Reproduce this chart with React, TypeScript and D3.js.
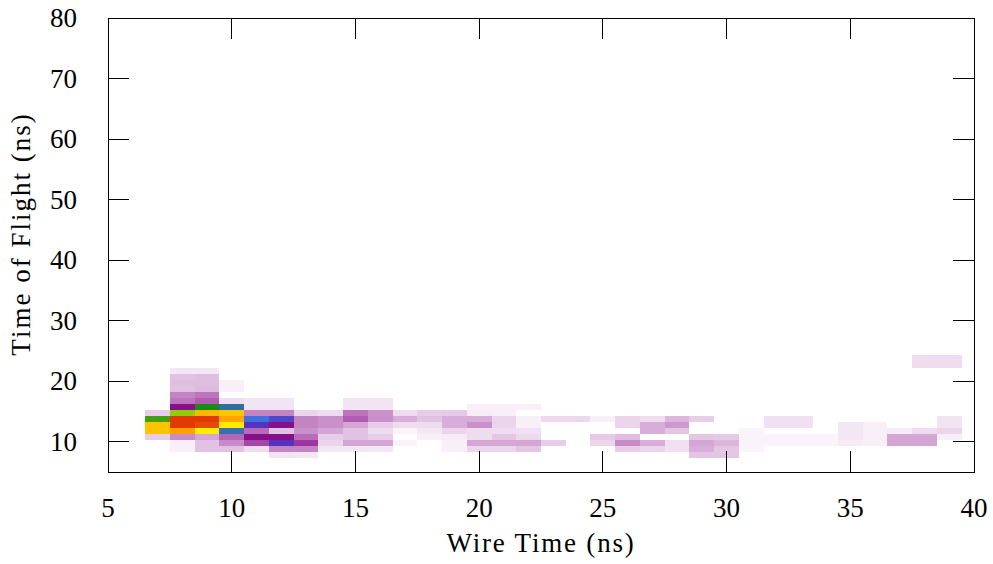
import * as d3 from "d3";

// wire-time bins are 1 ns wide, centred on integers
// time-of-flight bins are 1 ns wide, centres below
const wireTicks = [5, 10, 15, 20, 25, 30, 35, 40];
const tofTicks = [10, 20, 30, 40, 50, 60, 70, 80];

// [wire time centre, tof centre, counts]
const cells: [number, number, number][] = [
  [7, 14.75, 12], [7, 13.75, 72], [7, 12.75, 88], [7, 11.75, 88], [7, 10.75, 12],
  [8, 21.75, 5], [8, 20.75, 15], [8, 19.75, 16], [8, 18.75, 15], [8, 17.75, 30], [8, 16.75, 32], [8, 15.75, 45],
  [8, 14.75, 76], [8, 13.75, 100], [8, 12.75, 100], [8, 11.75, 94], [8, 10.75, 28], [8, 9.75, 3], [8, 8.75, 3],
  [9, 21.75, 5], [9, 20.75, 16], [9, 19.75, 16], [9, 18.75, 17], [9, 17.75, 32], [9, 16.75, 35], [9, 15.75, 70],
  [9, 14.75, 90], [9, 13.75, 100], [9, 12.75, 99], [9, 11.75, 82], [9, 10.75, 22], [9, 9.75, 15], [9, 8.75, 15],
  [10, 19.75, 3], [10, 18.75, 3], [10, 16.75, 8], [10, 15.75, 64], [10, 14.75, 88], [10, 13.75, 93],
  [10, 12.75, 82], [10, 11.75, 62], [10, 10.75, 34], [10, 9.75, 28], [10, 8.75, 15],
  [11, 16.75, 6], [11, 15.75, 6], [11, 14.75, 30], [11, 13.75, 58], [11, 12.75, 52], [11, 11.75, 33],
  [11, 10.75, 45], [11, 9.75, 38], [11, 8.75, 8],
  [12, 16.75, 6], [12, 15.75, 6], [12, 14.75, 30], [12, 13.75, 54], [12, 12.75, 45], [12, 11.75, 15],
  [12, 10.75, 45], [12, 9.75, 52], [12, 8.75, 30], [12, 7.75, 6],
  [13, 14.75, 10], [13, 13.75, 30], [13, 12.75, 30], [13, 11.75, 27], [13, 10.75, 33], [13, 9.75, 40], [13, 8.75, 30], [13, 7.75, 5],
  [14, 14.75, 8], [14, 13.75, 27], [14, 12.75, 27], [14, 11.75, 22], [14, 10.75, 12], [14, 9.75, 10], [14, 8.75, 5],
  [15, 16.75, 6], [15, 15.75, 6], [15, 14.75, 32], [15, 13.75, 35], [15, 12.75, 22], [15, 11.75, 15], [15, 10.75, 15], [15, 9.75, 22], [15, 8.75, 5],
  [16, 16.75, 6], [16, 15.75, 6], [16, 14.75, 27], [16, 13.75, 27], [16, 12.75, 12], [16, 11.75, 8], [16, 10.75, 12], [16, 9.75, 22], [16, 8.75, 5],
  [17, 14.75, 8], [17, 13.75, 20], [17, 12.75, 8], [17, 11.75, 2], [17, 9.75, 2],
  [18, 14.75, 12], [18, 13.75, 15], [18, 12.75, 8], [18, 11.75, 5], [18, 10.75, 3],
  [19, 14.75, 13], [19, 13.75, 20], [19, 12.75, 20], [19, 11.75, 10], [19, 10.75, 4], [19, 9.75, 3], [19, 8.75, 3],
  [20, 15.75, 3], [20, 14.75, 4], [20, 13.75, 20], [20, 12.75, 27], [20, 11.75, 8], [20, 10.75, 8], [20, 9.75, 22], [20, 8.75, 10],
  [21, 15.75, 3], [21, 14.75, 3], [21, 13.75, 10], [21, 12.75, 10], [21, 11.75, 8], [21, 10.75, 14], [21, 9.75, 22], [21, 8.75, 10],
  [22, 15.75, 3], [22, 13.75, 3], [22, 12.75, 3], [22, 11.75, 7], [22, 10.75, 9], [22, 9.75, 22], [22, 8.75, 14],
  [23, 13.75, 9], [23, 9.75, 12],
  [24, 13.75, 9],
  [25, 13.75, 3], [25, 10.75, 13], [25, 9.75, 10],
  [26, 13.75, 10], [26, 12.75, 10], [26, 10.75, 16], [26, 9.75, 28], [26, 8.75, 12],
  [27, 13.75, 8], [27, 12.75, 20], [27, 11.75, 20], [27, 9.75, 20], [27, 8.75, 10],
  [28, 13.75, 18], [28, 12.75, 25], [28, 11.75, 14], [28, 9.75, 7], [28, 8.75, 7],
  [29, 13.75, 12], [29, 10.75, 14], [29, 9.75, 22], [29, 8.75, 20], [29, 7.75, 14],
  [30, 10.75, 13], [30, 9.75, 18], [30, 8.75, 14], [30, 7.75, 14],
  [31, 11.75, 2], [31, 10.75, 2], [31, 9.75, 2], [31, 8.75, 2],
  [32, 13.75, 7], [32, 12.75, 7], [32, 10.75, 2], [32, 9.75, 2],
  [33, 13.75, 7], [33, 12.75, 7], [33, 10.75, 2], [33, 9.75, 2],
  [34, 10.75, 2], [34, 9.75, 2],
  [35, 12.75, 5], [35, 11.75, 5], [35, 10.75, 5], [35, 9.75, 4],
  [36, 12.75, 3], [36, 11.75, 3], [36, 10.75, 3], [36, 9.75, 3],
  [37, 11.75, 4], [37, 10.75, 22], [37, 9.75, 22],
  [38, 23.75, 8], [38, 22.75, 8], [38, 11.75, 8], [38, 10.75, 22], [38, 9.75, 22],
  [39, 23.75, 8], [39, 22.75, 8], [39, 13.75, 6], [39, 12.75, 6], [39, 11.75, 10], [39, 10.75, 3],
];

// palette stops (fraction of max) -> colour
const paletteStops = [0, 0.03, 0.08, 0.15, 0.22, 0.3, 0.38, 0.45, 0.52, 0.58, 0.64, 0.7, 0.76, 0.82, 0.88, 0.94, 1];
const paletteColors = [
  "#ffffff", "#f8eff8", "#efdcef", "#e2c2e2", "#d5a5d5", "#c284c2", "#a845a8", "#85108a",
  "#5533c0", "#4070e0", "#3070a0", "#1a8a12", "#92cc05", "#ffec00", "#ffc400", "#ffa000", "#e03a00",
];

const W = 993;
const H = 564;
const margin = { top: 18, right: 19, bottom: 92, left: 108 };
const binW = 1;
const binH = 1;
const tickLen = 21;
const font = "'Liberation Serif', 'DejaVu Serif', serif";

export default function App() {
  const x = d3.scaleLinear().domain([5, 40]).range([margin.left, W - margin.right]);
  const y = d3.scaleLinear().domain([5, 80]).range([H - margin.bottom, margin.top]);
  const maxCount = d3.max(cells, (d) => d[2]) ?? 1;
  const color = d3
    .scaleLinear<string>()
    .domain(paletteStops.map((s) => s * maxCount))
    .range(paletteColors)
    .interpolate(d3.interpolateRgb)
    .clamp(true);

  const x0 = x.range()[0];
  const x1 = x.range()[1];
  const y0 = y.range()[0];
  const y1 = y.range()[1];

  return (
    <svg
      width={W}
      height={H}
      style={{ position: "absolute", left: 0, top: 0, background: "#fff" }}
    >
      <g shapeRendering="crispEdges">
        {cells.map(([wx, ty, c], i) => (
          <rect
            key={i}
            x={x(wx - binW / 2)}
            y={y(ty + binH / 2)}
            width={x(wx + binW / 2) - x(wx - binW / 2)}
            height={y(ty - binH / 2) - y(ty + binH / 2)}
            fill={color(c)}
          />
        ))}
      </g>

      {/* ticks, mirrored on all four sides */}
      <g stroke="#000" strokeWidth={1} shapeRendering="crispEdges">
        {wireTicks.slice(1, -1).map((t) => (
          <g key={"x" + t}>
            <line x1={x(t)} x2={x(t)} y1={y0} y2={y0 - tickLen} />
            <line x1={x(t)} x2={x(t)} y1={y1} y2={y1 + tickLen} />
          </g>
        ))}
        {tofTicks.slice(0, -1).map((t) => (
          <g key={"y" + t}>
            <line x1={x0} x2={x0 + tickLen} y1={y(t)} y2={y(t)} />
            <line x1={x1} x2={x1 - tickLen} y1={y(t)} y2={y(t)} />
          </g>
        ))}
        <rect x={x0} y={y1} width={x1 - x0} height={y0 - y1} fill="none" />
      </g>

      <g fontFamily={font} fontSize={27} fill="#000">
        {wireTicks.map((t) => (
          <text key={"xl" + t} x={x(t)} y={y0 + 45} textAnchor="middle">
            {t}
          </text>
        ))}
        {tofTicks.map((t) => (
          <text key={"yl" + t} x={x0 - 31} y={y(t)} textAnchor="end" dominantBaseline="central">
            {t}
          </text>
        ))}
        <text x={(x0 + x1) / 2} y={y0 + 80} textAnchor="middle" letterSpacing={1.8}>
          Wire Time (ns)
        </text>
        <text transform={`translate(30, 234) rotate(-90)`} textAnchor="middle" letterSpacing={2}>
          Time of Flight (ns)
        </text>
      </g>
    </svg>
  );
}
